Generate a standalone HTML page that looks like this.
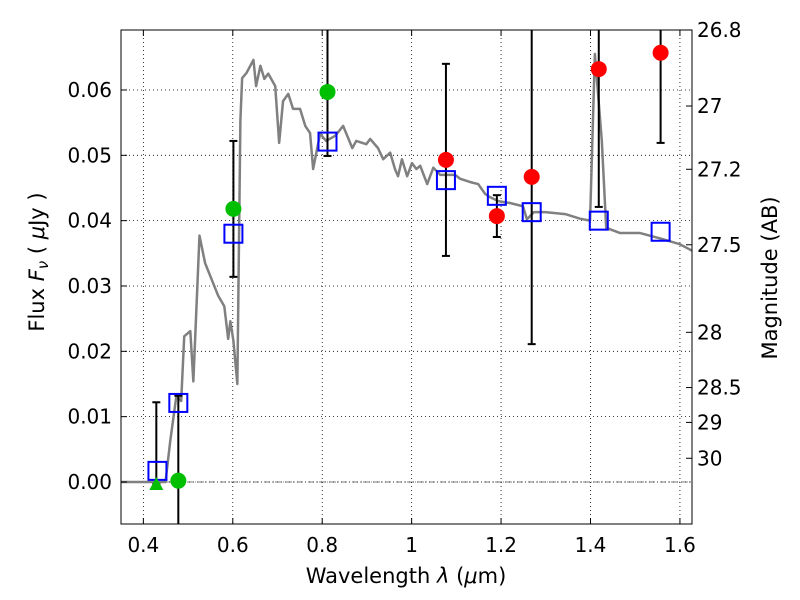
<!DOCTYPE html>
<html><head><meta charset="utf-8"><style>
html,body{margin:0;padding:0;background:#fff;}
svg{display:block;font-family:"DejaVu Sans","Liberation Sans",sans-serif;}
</style></head><body>
<svg id="chart" width="800" height="600" xmlns="http://www.w3.org/2000/svg"></svg>
<script>
const specWl=[0.350,0.4495,0.4602,0.4739,0.4846,0.4914,0.5050,0.5118,0.5255,0.5381,0.5498,0.5674,0.5810,0.5897,0.5946,0.6014,0.6102,0.6170,0.6209,0.6306,0.6462,0.6521,0.6618,0.6706,0.6793,0.6949,0.7037,0.7124,0.7241,0.7348,0.7504,0.7621,0.7728,0.7797,0.7952,0.8089,0.8293,0.8468,0.8673,0.8761,0.8985,0.9072,0.9248,0.9364,0.9520,0.9627,0.9696,0.9783,0.9900,1.0007,1.0105,1.0192,1.0348,1.0485,1.0640,1.0971,1.1088,1.1312,1.1488,1.1643,1.1750,1.1935,1.2198,1.2490,1.2578,1.2734,1.2987,1.3435,1.3766,1.3990,1.4098,1.4253,1.4351,1.4662,1.5110,1.5549,1.5996,1.627];
const specFlux=[0,0,0.0063,0.0132,0.0124,0.0223,0.0231,0.0154,0.0377,0.0335,0.0315,0.0285,0.0269,0.0219,0.0246,0.0216,0.0150,0.0553,0.0618,0.0626,0.0646,0.0606,0.0637,0.0617,0.0625,0.0606,0.0519,0.0583,0.0594,0.0571,0.0571,0.0545,0.0534,0.0479,0.0533,0.0522,0.0530,0.0545,0.0511,0.0522,0.0517,0.0525,0.0511,0.0494,0.0504,0.0479,0.0468,0.0494,0.0468,0.0488,0.0479,0.0484,0.0456,0.0481,0.0470,0.0470,0.0464,0.0459,0.0456,0.0441,0.0436,0.0430,0.0427,0.0422,0.0402,0.0413,0.0413,0.0410,0.0403,0.0400,0.0655,0.0522,0.0389,0.0381,0.0381,0.0373,0.0364,0.0354];
const greenWl=[0.4782,0.6014,0.8118];
const greenFlux=[0.0002,0.0418,0.0597];
const greenErr=[0.013,0.0104,0.0098];
const triWl=[0.4290];
const triFlux=[-0.0003];
const triUpper=[0.0122];
const redWl=[1.0767,1.1906,1.2685,1.4185,1.5568];
const redFlux=[0.0493,0.0407,0.0467,0.0632,0.0657];
const redErr=[0.0147,0.0032,0.0256,0.0211,0.0138];
const modelWl=[0.4315,0.4782,0.6014,0.8118,1.0767,1.1906,1.2685,1.4185,1.5568];
const modelFlux=[0.0017,0.0121,0.0380,0.0521,0.0462,0.0438,0.0413,0.0400,0.0383];
const xTicks=[0.4,0.6,0.8,1.0,1.2,1.4,1.6];
const xTickLabels=["0.4","0.6","0.8","1","1.2","1.4","1.6"];
const yTicks=[0,0.01,0.02,0.03,0.04,0.05,0.06];
const yTickLabels=["0.00","0.01","0.02","0.03","0.04","0.05","0.06"];
const magTicks=[26.8,27,27.2,27.5,28,28.5,29,30];
const magTickLabels=["26.8","27","27.2","27.5","28","28.5","29","30"];

const L=121,R=692,T=30,B=524;
const xmin=0.35,xmax=1.627,ymin=-0.00643,ymax=0.06918;
const X=v=>L+(v-xmin)/(xmax-xmin)*(R-L);
const Y=v=>B-(v-ymin)/(ymax-ymin)*(B-T);
const magToFlux=m=>Math.pow(10,(23.9-m)/2.5);
const svg=document.getElementById('chart');
const NS='http://www.w3.org/2000/svg';
function mk(tag,attrs,parent){const e=document.createElementNS(NS,tag);for(const k in attrs)e.setAttribute(k,attrs[k]);(parent||svg).appendChild(e);return e;}
const clipDefs=mk('defs',{});const cp=mk('clipPath',{id:'pc'},clipDefs);mk('rect',{x:L,y:T,width:R-L,height:B-T},cp);

const grid=mk('g',{});


xTicks.forEach(t=>mk('line',{x1:X(t),x2:X(t),y1:T,y2:B,stroke:'#000','stroke-width':0.8,'stroke-dasharray':'1,3'},grid));
yTicks.forEach(t=>mk('line',{x1:L,x2:R,y1:Y(t),y2:Y(t),stroke:'#000','stroke-width':0.8,'stroke-dasharray':'1,3'},grid));
const zl=mk('line',{x1:L,x2:R,y1:Y(0),y2:Y(0),stroke:'#000','stroke-width':0.6,'stroke-dasharray':'6,2,1,2'});



const plot=mk('g',{'clip-path':'url(#pc)'});
const sp=mk('polyline',{points:specWl.map((w,i)=>X(w)+','+Y(specFlux[i])).join(' '),fill:'none',stroke:'#808080','stroke-width':2.5,'stroke-linejoin':'round'},plot);


function ebar(x,lo,hi,name){const g=mk('g',{},plot);


mk('line',{x1:X(x),x2:X(x),y1:Y(lo),y2:Y(hi),stroke:'#000','stroke-width':2},g);
[lo,hi].forEach(v=>mk('line',{x1:X(x)-4,x2:X(x)+4,y1:Y(v),y2:Y(v),stroke:'#000','stroke-width':2},g));}
greenWl.forEach((w,i)=>ebar(w,greenFlux[i]-greenErr[i],greenFlux[i]+greenErr[i],'error-bar-green'));
redWl.forEach((w,i)=>ebar(w,redFlux[i]-redErr[i],redFlux[i]+redErr[i],'error-bar-red'));
triWl.forEach((w,i)=>ebar(w,triFlux[i],triUpper[i],'upper-limit-bar'));
modelWl.forEach((w,i)=>{const r=mk('rect',{x:X(w)-9,y:Y(modelFlux[i])-9,width:18,height:18,fill:'none',stroke:'#0000ff','stroke-width':2},plot);

});
greenWl.forEach((w,i)=>{const c=mk('circle',{cx:X(w),cy:Y(greenFlux[i]),r:8,fill:'#00bf00'},plot);

});
redWl.forEach((w,i)=>{const c=mk('circle',{cx:X(w),cy:Y(redFlux[i]),r:8,fill:'#ff0000'},plot);

});
triWl.forEach((w,i)=>{const x=X(w),y=Y(triFlux[i]);const p=mk('polygon',{points:`${x-7},${y+6} ${x+7},${y+6} ${x},${y-7}`,fill:'#00bf00'},plot);

});

const fr=mk('rect',{x:L,y:T,width:R-L,height:B-T,fill:'none',stroke:'#000','stroke-width':1});


xTicks.forEach((t,i)=>{mk('line',{x1:X(t),x2:X(t),y1:B,y2:B-6,stroke:'#000'});mk('line',{x1:X(t),x2:X(t),y1:T,y2:T+6,stroke:'#000'});
const tx=mk('text',{x:X(t),y:B+28,'font-size':20,'text-anchor':'middle'});tx.textContent=xTickLabels[i];

});
yTicks.forEach((t,i)=>{mk('line',{x1:L,x2:L+6,y1:Y(t),y2:Y(t),stroke:'#000'});
const tx=mk('text',{x:L-9,y:Y(t)+7,'font-size':20,'text-anchor':'end'});tx.textContent=yTickLabels[i];

});
magTicks.forEach((m,i)=>{const y=Y(magToFlux(m));mk('line',{x1:R,x2:R-6,y1:y,y2:y,stroke:'#000'});
const tx=mk('text',{x:R+5,y:y+7,'font-size':20});tx.textContent=magTickLabels[i];

});

const xt=mk('text',{x:406,y:583,'font-size':21,'text-anchor':'middle'});


xt.innerHTML='Wavelength  <tspan font-style="italic">λ</tspan> (<tspan font-style="italic">μ</tspan>m)';
const y1=mk('text',{transform:'translate(44,262) rotate(-90)','font-size':21,'text-anchor':'middle'});


y1.innerHTML='Flux  <tspan font-style="italic">F</tspan><tspan font-style="italic" font-size="15" dy="4">ν</tspan><tspan dy="-4">  (  </tspan><tspan font-style="italic">μ</tspan>Jy )';
const y2=mk('text',{transform:'translate(777,278) rotate(-90)','font-size':21,'text-anchor':'middle'});


y2.textContent='Magnitude (AB)';
</script>
</body></html>
